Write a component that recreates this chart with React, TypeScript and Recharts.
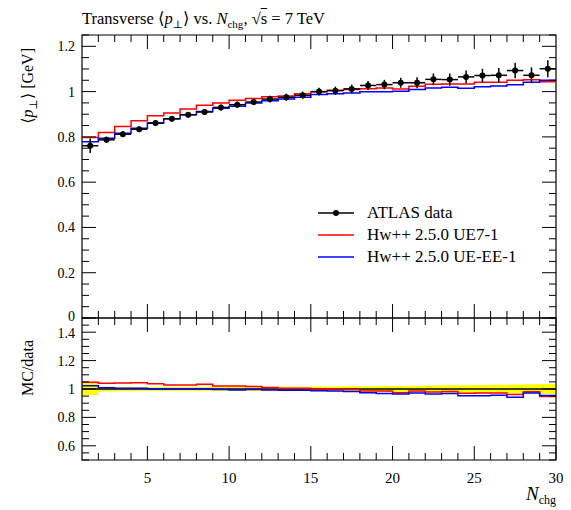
import React from 'react';
import { ComposedChart, Line, Scatter, ErrorBar, XAxis, YAxis, ReferenceArea, Area } from 'recharts';

// bin edges and centres in N_chg
const binEdges = [1, 2, 3, 4, 5, 6, 7, 8, 9, 10, 11, 12, 13, 14, 15, 16, 17, 18, 19, 20, 21, 22, 23, 24, 25, 26, 27, 28, 29, 30];
const binCentres = [1.5, 2.5, 3.5, 4.5, 5.5, 6.5, 7.5, 8.5, 9.5, 10.5, 11.5, 12.5, 13.5, 14.5, 15.5, 16.5, 17.5, 18.5, 19.5, 20.5, 21.5, 22.5, 23.5, 24.5, 25.5, 26.5, 27.5, 28.5, 29.5];

const atlasValues = [0.761, 0.787, 0.812, 0.834, 0.861, 0.880, 0.898, 0.910, 0.930, 0.942, 0.954, 0.967, 0.975, 0.984, 1.000, 1.004, 1.012, 1.027, 1.031, 1.039, 1.039, 1.054, 1.053, 1.065, 1.071, 1.072, 1.093, 1.072, 1.101];
const atlasErrors = [0.032, 0.014, 0.013, 0.012, 0.012, 0.012, 0.012, 0.013, 0.013, 0.014, 0.014, 0.015, 0.016, 0.016, 0.017, 0.018, 0.019, 0.020, 0.021, 0.022, 0.024, 0.026, 0.027, 0.028, 0.030, 0.032, 0.034, 0.035, 0.038];
const ue71Values = [0.797, 0.819, 0.846, 0.871, 0.893, 0.905, 0.923, 0.940, 0.950, 0.962, 0.970, 0.977, 0.981, 0.990, 0.999, 1.006, 1.009, 1.013, 1.016, 1.012, 1.024, 1.032, 1.034, 1.034, 1.041, 1.041, 1.050, 1.052, 1.043];
const ueEE1Values = [0.778, 0.794, 0.816, 0.838, 0.861, 0.880, 0.898, 0.912, 0.927, 0.935, 0.950, 0.960, 0.967, 0.975, 0.987, 0.990, 0.994, 0.999, 0.999, 1.002, 1.009, 1.016, 1.019, 1.015, 1.021, 1.025, 1.030, 1.041, 1.050];

const mainTicks = [0, 0.05, 0.1, 0.15, 0.2, 0.25, 0.3, 0.35, 0.4, 0.45, 0.5, 0.55, 0.6, 0.65, 0.7, 0.75, 0.8, 0.85, 0.9, 0.95, 1, 1.05, 1.1, 1.15, 1.2, 1.25];
const mainLabels = [0, 0.2, 0.4, 0.6, 0.8, 1, 1.2];
const ratioTicks = [0.5, 0.55, 0.6, 0.65, 0.7, 0.75, 0.8, 0.85, 0.9, 0.95, 1, 1.05, 1.1, 1.15, 1.2, 1.25, 1.3, 1.35, 1.4, 1.45, 1.5];
const ratioLabels = [0.6, 0.8, 1, 1.2, 1.4];
const xTicks = [2, 3, 4, 5, 6, 7, 8, 9, 10, 11, 12, 13, 14, 15, 16, 17, 18, 19, 20, 21, 22, 23, 24, 25, 26, 27, 28, 29];
const xLabels = [5, 10, 15, 20, 25, 30];

const FONT = '"Liberation Serif", "DejaVu Serif", serif';
const W = 555;
const PL = 74;
const PR = 548;
const MAIN_TOP = 27;
const MAIN_PB = 310; // bottom edge of main plot
const RATIO_TOP = 5;
const RATIO_PH = 142;

const last = (arr: number[], i: number) => arr[Math.min(i, arr.length - 1)];

const stepRows = binEdges.map((x, i) => ({
  x,
  ue71: last(ue71Values, i),
  ueEE1: last(ueEE1Values, i),
}));

const pointRows = binCentres.map((x, i) => ({
  x,
  y: atlasValues[i],
  err: atlasErrors[i],
  xerr: 0.5,
}));

const ratioRows = binEdges.map((x, i) => {
  const d = last(atlasValues, i);
  const e = last(atlasErrors, i) / d;
  return {
    x,
    band: [1 - e, 1 + e],
    one: 1,
    ue71: last(ue71Values, i) / d,
    ueEE1: last(ueEE1Values, i) / d,
  };
});

const near = (a: number, b: number) => Math.abs(a - b) < 1e-6;
const fmt = (v: number) => String(Number(v.toFixed(1)));

// labelShift nudges the end labels that sit next to the shared panel border
function makeYTick(labels: number[], labelShift: (v: number) => number) {
  return (props: any) => {
    const { y, payload } = props;
    const v = payload.value;
    const major = Math.abs(v / 0.2 - Math.round(v / 0.2)) < 1e-6;
    const len = major ? 14 : 7;
    return (
      <g>
        <line x1={PL} x2={PL + len} y1={y} y2={y} stroke="#000" strokeWidth={1} />
        <line x1={PR} x2={PR - len} y1={y} y2={y} stroke="#000" strokeWidth={1} />
        {labels.some((l) => near(l, v)) && (
          <text x={PL - 7} y={y + labelShift(v)} dy="0.35em" textAnchor="end" fontSize={14} fontFamily={FONT} fill="#000">
            {fmt(v)}
          </text>
        )}
      </g>
    );
  };
}

function makeXTick(top: number, bottom: number, withLabels: boolean) {
  return (props: any) => {
    const { x, payload } = props;
    const v = payload.value;
    const major = v % 5 === 0;
    const len = major ? 14 : 7;
    return (
      <g>
        <line x1={x} x2={x} y1={top} y2={top + len} stroke="#000" strokeWidth={1} />
        <line x1={x} x2={x} y1={bottom} y2={bottom - len} stroke="#000" strokeWidth={1} />
        {withLabels && xLabels.includes(v) && (
          <text x={x} y={bottom + 23} textAnchor="middle" fontSize={15} fontFamily={FONT} fill="#000">
            {v}
          </text>
        )}
      </g>
    );
  };
}

const legendItems = [
  { label: 'ATLAS data', color: '#000', dot: true },
  { label: 'Hw++ 2.5.0 UE7-1', color: '#ff0000', dot: false },
  { label: 'Hw++ 2.5.0 UE-EE-1', color: '#0000ff', dot: false },
];

export default function App() {
  return (
    <div style={{ position: 'relative', width: W, height: 500, fontFamily: FONT }}>
      {/* title */}
      <div style={{ position: 'absolute', left: PL, top: 1, fontSize: 16.5, whiteSpace: 'nowrap', lineHeight: '20px' }}>
        Transverse ⟨<i>p</i><sub style={{ fontSize: 11 }}>⊥</sub>⟩ vs. <i>N</i>
        <sub style={{ fontSize: 11 }}>chg</sub>, √<span style={{ textDecoration: 'overline' }}>s</span> = 7 TeV
      </div>

      {/* main panel */}
      <div style={{ position: 'absolute', left: 0, top: 0 }}>
        <ComposedChart width={W} height={MAIN_PB + 20} data={stepRows} margin={{ top: MAIN_TOP, right: W - PR, bottom: 0, left: PL - 20 }}>
          <XAxis
            dataKey="x"
            type="number"
            domain={[1, 30]}
            ticks={xTicks}
            interval={0}
            height={20}
            axisLine={false}
            tickLine={false}
            allowDataOverflow
            tick={makeXTick(MAIN_TOP, MAIN_PB, false)}
          />
          <YAxis
            type="number"
            domain={[0, 1.25]}
            ticks={mainTicks}
            interval={0}
            width={20}
            axisLine={false}
            tickLine={false}
            allowDataOverflow
            tick={makeYTick(mainLabels, (v) => (v === 0 ? -2 : 0))}
          />
          <Line type="stepAfter" dataKey="ue71" stroke="#ff0000" strokeWidth={1.5} dot={false} isAnimationActive={false} />
          <Line type="stepAfter" dataKey="ueEE1" stroke="#0000ff" strokeWidth={1.5} dot={false} isAnimationActive={false} />
          <Scatter
            data={pointRows}
            dataKey="y"
            fill="#000"
            isAnimationActive={false}
            shape={(p: any) => <circle cx={p.cx} cy={p.cy} r={3} fill="#000" />}
          >
            <ErrorBar dataKey="err" direction="y" width={0} stroke="#000" strokeWidth={1.5} />
            <ErrorBar dataKey="xerr" direction="x" width={0} stroke="#000" strokeWidth={1.5} />
          </Scatter>
          <ReferenceArea x1={1} x2={30} y1={0} y2={1.25} fill="none" stroke="#000" strokeWidth={1.2} ifOverflow="visible" />
        </ComposedChart>
      </div>

      {/* ratio panel */}
      <div style={{ position: 'absolute', left: 0, top: MAIN_PB - RATIO_TOP }}>
        <ComposedChart width={W} height={RATIO_TOP + RATIO_PH + 48} data={ratioRows} margin={{ top: RATIO_TOP, right: W - PR, bottom: 0, left: PL - 20 }}>
          <XAxis
            dataKey="x"
            type="number"
            domain={[1, 30]}
            ticks={[...xTicks, 30]}
            interval={0}
            height={48}
            axisLine={false}
            tickLine={false}
            allowDataOverflow
            tick={makeXTick(RATIO_TOP, RATIO_TOP + RATIO_PH, true)}
          />
          <YAxis
            type="number"
            domain={[0.5, 1.5]}
            ticks={ratioTicks}
            interval={0}
            width={20}
            axisLine={false}
            tickLine={false}
            allowDataOverflow
            tick={makeYTick(ratioLabels, (v) => (near(v, 1.4) ? 1 : 0))}
          />
          <Area type="stepAfter" dataKey="band" fill="#ffff00" fillOpacity={1} stroke="none" isAnimationActive={false} />
          <Line type="stepAfter" dataKey="one" stroke="#000" strokeWidth={1.3} dot={false} isAnimationActive={false} />
          <Line type="stepAfter" dataKey="ue71" stroke="#ff0000" strokeWidth={1.5} dot={false} isAnimationActive={false} />
          <Line type="stepAfter" dataKey="ueEE1" stroke="#0000ff" strokeWidth={1.5} dot={false} isAnimationActive={false} />
          <ReferenceArea x1={1} x2={30} y1={0.5} y2={1.5} fill="none" stroke="#000" strokeWidth={1.2} ifOverflow="visible" />
        </ComposedChart>
      </div>

      {/* legend */}
      <div style={{ position: 'absolute', left: 310, top: 194, fontSize: 17 }}>
        {legendItems.map((it) => (
          <div key={it.label} style={{ display: 'flex', alignItems: 'center', height: 22, whiteSpace: 'nowrap' }}>
            <svg width={36} height={10} style={{ marginRight: 13 }}>
              <line x1={0} x2={36} y1={5} y2={5} stroke={it.color} strokeWidth={1.5} />
              {it.dot && <circle cx={18} cy={5} r={3} fill="#000" />}
            </svg>
            <span>{it.label}</span>
          </div>
        ))}
      </div>

      {/* axis titles */}
      <svg width={W} height={500} style={{ position: 'absolute', left: 0, top: 0, pointerEvents: 'none' }}>
        <text transform="translate(25,40) rotate(-90)" textAnchor="end" fontSize={16} fontFamily={FONT} fill="#000">
          ⟨<tspan fontStyle="italic">p</tspan>
          <tspan dy={4} fontSize={11}>⊥</tspan>
          <tspan dy={-4}>⟩ [GeV]</tspan>
        </text>
        <text transform="translate(25,332) rotate(-90)" textAnchor="end" fontSize={16} fontFamily={FONT} fill="#000">
          MC/data
        </text>
        <text x={PR} y={492} textAnchor="end" fontSize={19} fontFamily={FONT} fill="#000">
          <tspan fontStyle="italic">N</tspan>
          <tspan dy={4} fontSize={12}>chg</tspan>
        </text>
      </svg>
    </div>
  );
}
